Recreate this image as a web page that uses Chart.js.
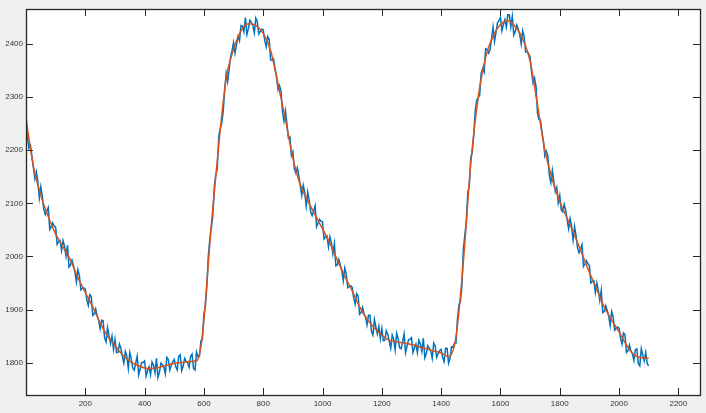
<!DOCTYPE html>
<html>
<head>
<meta charset="utf-8">
<script src="https://cdn.jsdelivr.net/npm/chart.js@4.4.1/dist/chart.umd.min.js"></script>
<style>
  html, body { margin: 0; padding: 0; background: #f0f0f0; }
  #c { display: block; }
</style>
</head>
<body>
<canvas id="c" width="706" height="413"></canvas>
<script>
// ---- data ----
const rawStep = 5; // sample spacing of the noisy series (x = 0, 5, 10, ...)
const rawY = [
2270,2225,2204,2209,2189,2167,2146,2159,2141,2110,2131,2113,2089,2079,2085,2092,2051,2056,2063,2057,
2055,2023,2028,2030,2011,2030,2019,2000,2021,1980,1984,1993,1983,1971,1952,1975,1964,1937,1940,1941,
1939,1919,1908,1928,1925,1889,1892,1901,1888,1880,1864,1880,1879,1847,1839,1866,1851,1836,1850,1825,
1844,1819,1819,1835,1827,1812,1799,1821,1812,1789,1819,1807,1790,1786,1799,1812,1777,1788,1800,1800,
1803,1775,1785,1792,1777,1801,1795,1781,1808,1772,1782,1799,1796,1791,1779,1810,1806,1786,1795,1802,
1806,1792,1786,1812,1815,1785,1793,1808,1802,1800,1791,1812,1816,1789,1786,1820,1811,1812,1841,1845,
1892,1907,1946,2002,2033,2054,2076,2131,2154,2164,2226,2241,2250,2273,2312,2345,2329,2352,2376,2388,
2403,2383,2400,2414,2406,2435,2434,2423,2450,2418,2429,2445,2441,2435,2421,2449,2442,2419,2424,2428,
2427,2407,2395,2414,2409,2370,2369,2372,2353,2338,2314,2322,2312,2272,2255,2274,2249,2223,2225,2190,
2197,2165,2157,2167,2152,2133,2115,2134,2121,2095,2121,2106,2084,2077,2085,2095,2056,2063,2070,2066,
2065,2033,2037,2039,2018,2037,2025,2005,2024,1982,1984,1994,1984,1973,1954,1978,1967,1941,1943,1945,
1942,1922,1910,1930,1926,1891,1894,1904,1892,1886,1871,1889,1889,1859,1852,1881,1867,1854,1868,1845,
1864,1841,1842,1860,1853,1840,1827,1852,1844,1824,1855,1845,1828,1826,1839,1854,1819,1831,1843,1844,
1847,1819,1828,1835,1819,1842,1835,1821,1846,1809,1817,1832,1827,1822,1808,1837,1831,1810,1817,1823,
1825,1810,1802,1827,1827,1799,1808,1830,1829,1837,1837,1882,1909,1915,1944,2014,2040,2067,2121,2133,
2187,2196,2229,2274,2294,2299,2304,2345,2354,2347,2391,2390,2383,2389,2410,2432,2405,2422,2440,2444,
2450,2425,2437,2446,2432,2455,2455,2432,2452,2417,2424,2436,2428,2418,2400,2425,2414,2385,2385,2382,
2375,2347,2327,2336,2320,2270,2258,2257,2234,2216,2189,2198,2189,2152,2139,2162,2141,2122,2130,2101,
2115,2088,2084,2098,2087,2069,2052,2071,2057,2031,2056,2039,2016,2007,2014,2022,1981,1986,1992,1986,
1983,1950,1953,1954,1932,1950,1937,1917,1936,1894,1896,1907,1898,1888,1870,1896,1886,1861,1864,1867,
1865,1846,1835,1856,1853,1819,1822,1833,1822,1817,1804,1824,1826,1798,1794,1826,1814,1803,1819,1798,
1794
];
const rawX = rawY.map((_, i) => i * rawStep);

const smoothX = [0,25,50,75,100,125,150,175,200,225,250,275,300,325,350,375,400,425,450,475,500,525,550,575,590,600,625,650,675,700,725,750,775,800,825,850,875,900,925,950,975,1000,1025,1050,1075,1100,1125,1150,1175,1200,1225,1250,1275,1300,1325,1350,1375,1400,1425,1450,1475,1500,1525,1550,1575,1600,1625,1650,1675,1700,1725,1750,1775,1800,1825,1850,1875,1900,1925,1950,1975,2000,2025,2050,2075,2100];
const smoothY = [2258,2170,2115,2075,2042,2018,1993,1960,1932,1905,1875,1850,1832,1815,1803,1795,1790,1789,1791,1795,1799,1800,1802,1803,1830,1880,2060,2210,2335,2390,2425,2438,2435,2420,2388,2325,2258,2185,2135,2105,2078,2052,2025,1993,1963,1935,1905,1882,1865,1852,1842,1839,1837,1834,1830,1826,1822,1818,1811,1848,1990,2175,2300,2375,2415,2437,2444,2433,2410,2368,2285,2200,2145,2103,2072,2040,2005,1970,1938,1905,1880,1858,1833,1815,1809,1808];

const xTicks = [200,400,600,800,1000,1200,1400,1600,1800,2000,2200];
const yTicks = [1800,1900,2000,2100,2200,2300,2400];

// ---- chart ----
const axisColor = '#262626';
const tickLen = 7;

const boxPlugin = {
  id: 'matlabBox',
  beforeDatasetsDraw(chart) {
    const { ctx, chartArea: a } = chart;
    ctx.save();
    ctx.fillStyle = '#ffffff';
    ctx.fillRect(a.left, a.top, a.right - a.left, a.bottom - a.top);
    ctx.restore();
  },
  afterDraw(chart) {
    const { ctx, chartArea: a, scales } = chart;
    ctx.save();
    ctx.strokeStyle = axisColor;
    ctx.lineWidth = 1;
    ctx.beginPath();
    xTicks.forEach(v => {
      const p = Math.round(scales.x.getPixelForValue(v)) + 0.5;
      ctx.moveTo(p, a.bottom); ctx.lineTo(p, a.bottom - tickLen);
      ctx.moveTo(p, a.top); ctx.lineTo(p, a.top + tickLen);
    });
    yTicks.forEach(v => {
      const p = Math.round(scales.y.getPixelForValue(v)) + 0.5;
      ctx.moveTo(a.left, p); ctx.lineTo(a.left + tickLen, p);
      ctx.moveTo(a.right, p); ctx.lineTo(a.right - tickLen, p);
    });
    ctx.stroke();
    ctx.lineWidth = 1.3;
    ctx.strokeRect(Math.round(a.left) + 0.5, Math.round(a.top) + 0.5,
                   Math.round(a.right - a.left), Math.round(a.bottom - a.top));
    ctx.restore();
  }
};

const tickFont = { family: '"Liberation Sans", Arial, sans-serif', size: 8 };

new Chart(document.getElementById('c'), {
  type: 'line',
  data: {
    datasets: [
      {
        data: rawX.map((x, i) => ({ x, y: rawY[i] })),
        borderColor: '#0072BD',
        borderWidth: 1.5,
        pointRadius: 0,
        tension: 0,
        fill: false,
        order: 2
      },
      {
        data: smoothX.map((x, i) => ({ x, y: smoothY[i] })),
        borderColor: '#D95319',
        borderWidth: 1.5,
        pointRadius: 0,
        cubicInterpolationMode: 'monotone',
        fill: false,
        order: 1
      }
    ]
  },
  options: {
    responsive: false,
    animation: false,
    events: [],
    layout: { padding: { left: 0, top: 9, right: 6, bottom: 0 } },
    plugins: { legend: { display: false }, tooltip: { enabled: false } },
    scales: {
      x: {
        type: 'linear',
        min: 0,
        max: 2273,
        afterBuildTicks: s => { s.ticks = xTicks.map(v => ({ value: v })); },
        afterFit: s => { s.height = 18; },
        grid: { display: false, drawTicks: false, tickLength: 0 },
        border: { display: false },
        ticks: {
          callback: v => String(v),
          color: '#333333',
          font: tickFont,
          padding: 4,
          maxRotation: 0,
          autoSkip: false
        }
      },
      y: {
        type: 'linear',
        min: 1739,
        max: 2466,
        afterBuildTicks: s => { s.ticks = yTicks.map(v => ({ value: v })); },
        afterFit: s => { s.width = 26; },
        grid: { display: false, drawTicks: false, tickLength: 0 },
        border: { display: false },
        ticks: {
          callback: v => String(v),
          color: '#333333',
          font: tickFont,
          padding: 3,
          autoSkip: false
        }
      }
    }
  },
  plugins: [boxPlugin]
});
</script>
</body>
</html>
